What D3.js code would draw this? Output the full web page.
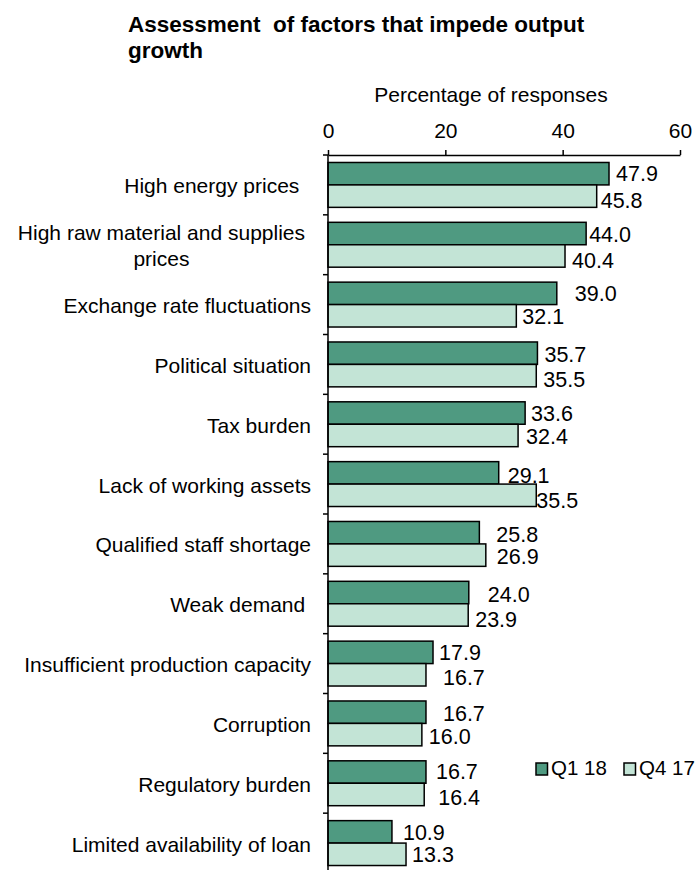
<!DOCTYPE html>
<html lang="en">
<head>
  <meta charset="UTF-8">
  <title>Assessment of factors that impede output growth</title>
  <script src="https://d3js.org/d3.v7.min.js"></script>
  <style>
    body {
      margin: 0;
      background-color: #ffffff;
    }

    svg text {
      font-family: "Liberation Sans", Arial, sans-serif;
      fill: #000000;
      white-space: pre;
    }

    .title {
      font-size: 22.5px;
      font-weight: bold;
    }

    .axis-title, .cat-label, .tick text {
      font-size: 21px;
    }

    .value-label {
      font-size: 21.5px;
    }

    .legend text {
      font-size: 20.5px;
    }

    .bar {
      stroke: #000000;
      stroke-width: 1.5;
    }

    .axis-line {
      stroke: #000000;
      stroke-width: 1.5;
    }
  </style>
</head>
<body>

<svg width="695" height="870"></svg>

<script>
  // data
  const categories = [
    "High energy prices  ",
    "High raw material and supplies prices",
    "Exchange rate fluctuations",
    "Political situation",
    "Tax burden",
    "Lack of working assets",
    "Qualified staff shortage",
    "Weak demand ",
    "Insufficient production capacity",
    "Corruption",
    "Regulatory burden",
    "Limited availability of loan"
  ];
  const seriesNames = ["Q1 18", "Q4 17"];
  const q1_18 = [47.9, 44.0, 39.0, 35.7, 33.6, 29.1, 25.8, 24.0, 17.9, 16.7, 16.7, 10.9];
  const q4_17 = [45.8, 40.4, 32.1, 35.5, 32.4, 35.5, 26.9, 23.9, 16.7, 16.0, 16.4, 13.3];
  const xTicks = [0, 20, 40, 60];

  // label placement as in the original (gap after bar end, vertical nudge)
  const labelGap = [[7, 4], [3, 7], [18, 6], [7, 7], [6, 8], [9, 0], [17, 11], [19, 7], [6, 17], [17, 7], [10, 14], [11, 6]];
  const labelDy = [[0, 5], [1, 5], [1, 1], [2, 4], [1, 2], [3, 6], [2, 2], [2, 5], [1, 3], [2, 2], [0, 4], [1, 1]];

  const colors = ["#4f9a81", "#c3e4d6"];
  const series = [q1_18, q4_17];

  const svg = d3.select("svg");

  const plotLeft = 328, plotRight = 680, plotTop = 155, plotBottom = 873;

  const x = d3.scaleLinear().domain([0, 60]).range([plotLeft, plotRight]);
  const y = d3.scaleBand()
    .domain(categories)
    .range([plotTop, plotBottom])
    .paddingInner(0.25)
    .paddingOuter(0.125);
  const ySub = d3.scaleBand()
    .domain(seriesNames)
    .range([0, y.bandwidth()]);

  // title
  svg.append("text").attr("class", "title").attr("x", 128).attr("y", 32)
    .text("Assessment  of factors that impede output");
  svg.append("text").attr("class", "title").attr("x", 128).attr("y", 58)
    .text("growth");

  svg.append("text").attr("class", "axis-title")
    .attr("x", 491).attr("y", 102)
    .attr("text-anchor", "middle")
    .text("Percentage of responses");

  // bars
  const rows = svg.append("g").selectAll("g")
    .data(categories)
    .join("g")
    .attr("transform", d => `translate(0,${y(d)})`);

  seriesNames.forEach((name, s) => {
    rows.append("rect")
      .attr("class", "bar")
      .attr("x", x(0))
      .attr("y", ySub(name))
      .attr("width", (d, i) => x(series[s][i]) - x(0))
      .attr("height", ySub.bandwidth())
      .attr("fill", colors[s]);

    rows.append("text")
      .attr("class", "value-label")
      .attr("x", (d, i) => x(series[s][i]) + labelGap[i][s])
      .attr("y", (d, i) => ySub(name) + ySub.bandwidth() / 2 + labelDy[i][s])
      .attr("dominant-baseline", "central")
      .text((d, i) => series[s][i].toFixed(1));
  });

  // x axis on top
  const xAxis = svg.append("g")
    .attr("transform", `translate(0,${plotTop})`)
    .call(d3.axisTop(x).tickValues(xTicks).tickSize(5).tickSizeOuter(0).tickPadding(12));
  xAxis.attr("font-family", null).attr("font-size", null);
  xAxis.select(".domain").attr("stroke", "#000").attr("stroke-width", 1.5);
  xAxis.selectAll(".tick line").attr("stroke", "#000").attr("stroke-width", 1.5);
  xAxis.selectAll(".tick text").attr("fill", "#000");

  // category axis with ticks between categories
  svg.append("line").attr("class", "axis-line")
    .attr("x1", plotLeft).attr("x2", plotLeft)
    .attr("y1", plotTop).attr("y2", plotBottom);
  svg.append("g").selectAll("line")
    .data(d3.range(categories.length + 1))
    .join("line")
    .attr("class", "axis-line")
    .attr("x1", plotLeft - 5).attr("x2", plotLeft)
    .attr("y1", i => plotTop + i * y.step())
    .attr("y2", i => plotTop + i * y.step());

  // category labels, wrapped when too long
  const labelRight = 311;
  const maxWidth = 300;
  const labels = svg.append("g").selectAll("text")
    .data(categories)
    .join("text")
    .attr("class", "cat-label")
    .attr("dominant-baseline", "central");

  labels.each(function(d) {
    const t = d3.select(this);
    const words = d.trim().split(" ");
    const lines = [];
    let line = [];
    words.forEach(w => {
      t.text([...line, w].join(" "));
      if (line.length && this.getComputedTextLength() > maxWidth) {
        lines.push(line.join(" "));
        line = [w];
      } else {
        line.push(w);
      }
    });
    lines.push(line.join(" "));
    const cy = y(d) + y.bandwidth() / 2 + 1;
    if (lines.length === 1) {
      t.text(d)
        .attr("x", labelRight)
        .attr("y", cy)
        .attr("text-anchor", "end");
    } else {
      t.text(null);
      t.attr("text-anchor", "middle");
      const spans = lines.map(l => t.append("tspan").text(l));
      const w = d3.max(spans, s => s.node().getComputedTextLength());
      const cx = labelRight - 6 - w / 2;
      const lh = 26;
      spans.forEach((s, k) => {
        s.attr("x", cx).attr("y", cy + (k - (lines.length - 1) / 2) * lh - 1);
      });
    }
  });

  // legend
  const legend = svg.append("g").attr("class", "legend");
  const legendX = [536, 624];
  seriesNames.forEach((name, s) => {
    legend.append("rect")
      .attr("class", "bar")
      .attr("x", legendX[s]).attr("y", 763)
      .attr("width", 11.5).attr("height", 12)
      .attr("fill", colors[s]);
    legend.append("text")
      .attr("x", legendX[s] + 15).attr("y", 775)
      .text(name);
  });
</script>

</body>
</html>
